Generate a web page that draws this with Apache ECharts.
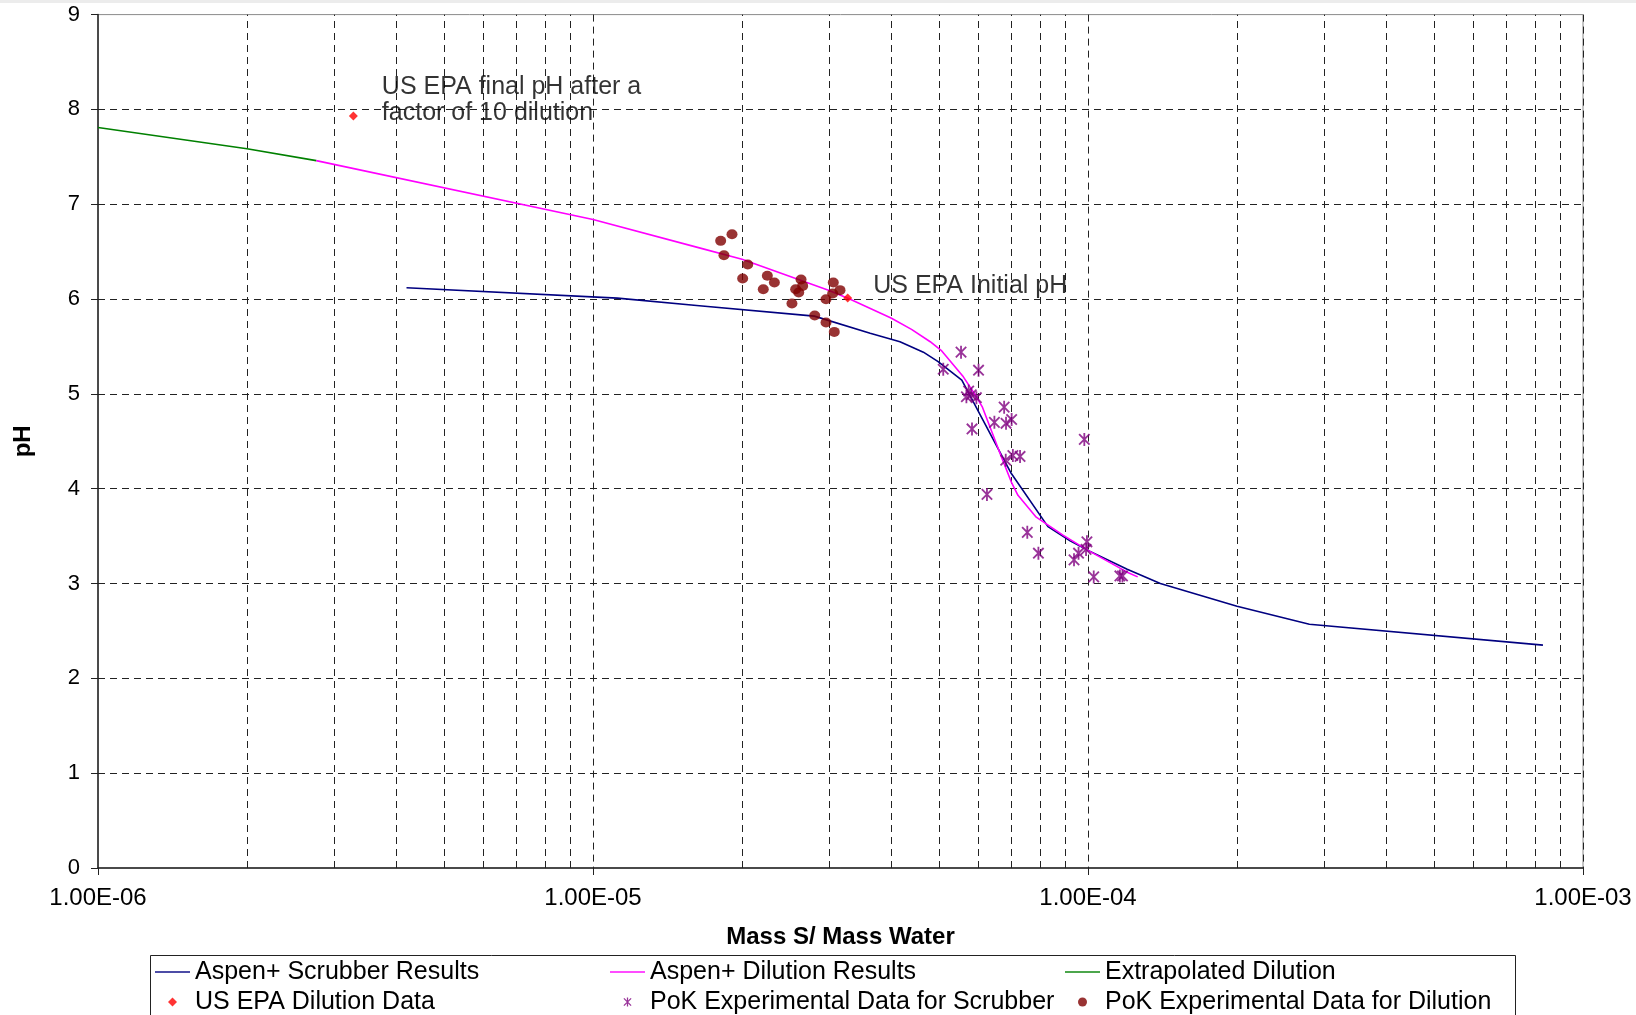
<!DOCTYPE html>
<html><head><meta charset="utf-8">
<script src="https://cdn.jsdelivr.net/npm/echarts@6/dist/echarts.min.js"></script>
<style>html,body{margin:0;padding:0;background:#fff}#c{width:1636px;height:1015px}</style>
</head><body><div id="c"></div>
<script>
// ---- data ----
const scrubberX = [4.2e-6, 1.12e-5, 1.64e-5, 2.8e-5, 3.63e-5, 4.17e-5, 4.65e-5, 4.98e-5, 5.56e-5, 7.0e-5, 8.3e-5, 9.2e-5, 1.0e-4, 1.2e-4, 1.4e-4, 2.0e-4, 2.8e-4, 8.3e-4];
const scrubberY = [6.12, 6.01, 5.93, 5.82, 5.64, 5.55, 5.44, 5.34, 5.145, 4.16, 3.60, 3.45, 3.35, 3.15, 3.00, 2.76, 2.57, 2.35];

const dilutionX = [2.76e-6, 1.0e-5, 1.64e-5, 2.0e-5, 3.0e-5, 3.3e-5, 4.0e-5, 4.4e-5, 4.8e-5, 5.05e-5, 5.6e-5, 5.9e-5, 6.12e-5, 6.6e-5, 7.0e-5, 7.22e-5, 7.86e-5, 8.9e-5, 1.0e-4, 1.2e-4, 1.26e-4];
const dilutionY = [7.46, 6.84, 6.54, 6.42, 6.09, 6.00, 5.80, 5.68, 5.55, 5.46, 5.18, 5.00, 4.86, 4.41, 4.07, 3.93, 3.70, 3.51, 3.35, 3.12, 3.07];

const extrapX = [1.0e-6, 2.0e-6, 2.76e-6];
const extrapY = [7.81, 7.585, 7.46];

const epaX = [3.28e-6, 3.27e-5];
const epaY = [7.93, 6.01];
const epaNotes = ['US EPA final pH after a\nfactor of 10 dilution', 'US EPA Initial pH'];

const pokScrubX = [5.54e-5, 5.10e-5, 6.01e-5, 5.68e-5, 5.74e-5, 5.81e-5, 5.95e-5, 5.83e-5, 6.77e-5, 6.47e-5, 6.83e-5, 7.01e-5, 9.83e-5, 6.82e-5, 7.05e-5, 7.29e-5, 6.25e-5, 7.54e-5, 7.94e-5, 9.37e-5, 9.57e-5, 9.91e-5, 9.95e-5, 1.027e-4, 1.16e-4, 1.174e-4];
const pokScrubY = [5.44, 5.26, 5.25, 4.97, 5.03, 4.99, 4.96, 4.63, 4.86, 4.70, 4.69, 4.73, 4.52, 4.30, 4.35, 4.34, 3.94, 3.54, 3.32, 3.25, 3.32, 3.36, 3.44, 3.07, 3.08, 3.08];

const pokDilX = [1.811e-5, 1.909e-5, 1.839e-5, 2.054e-5, 2.006e-5, 2.25e-5, 2.325e-5, 2.208e-5, 2.632e-5, 2.652e-5, 2.567e-5, 2.604e-5, 2.523e-5, 3.058e-5, 3.155e-5, 3.049e-5, 2.956e-5, 2.805e-5, 2.956e-5, 3.072e-5];
const pokDilY = [6.614, 6.684, 6.463, 6.365, 6.217, 6.245, 6.175, 6.104, 6.207, 6.139, 6.104, 6.070, 5.954, 6.175, 6.094, 6.059, 5.999, 5.827, 5.753, 5.654];

const xDecades = [1e-6, 1e-5, 1e-4];
const minorMultipliers = [2, 3, 4, 5, 6, 7, 8, 9];
const yTicks = [0, 1, 2, 3, 4, 5, 6, 7, 8, 9];
const yMin = 0, yMax = 9;

const names = {
  scrub: 'Aspen+ Scrubber Results',
  dil: 'Aspen+ Dilution Results',
  ext: 'Extrapolated Dilution',
  epa: 'US EPA Dilution Data',
  pokS: 'PoK Experimental Data for Scrubber',
  pokD: 'PoK Experimental Data for Dilution'
};

const colors = { scrub: '#000080', dil: '#ff00ff', ext: '#008000', epa: '#ff0000', pokS: '#800080', pokD: '#800000' };

// ---- build ----
const FONT = '"Liberation Sans", Arial, sans-serif';
const zip = (xs, ys) => xs.map((x, i) => [x, ys[i]]);
const minorGrid = [];
xDecades.forEach(d => minorMultipliers.forEach(m => minorGrid.push([{ coord: [d * m, yMin] }, { coord: [d * m, yMax] }])));

function sciLabel(v) {
  const s = Number(v).toExponential(2).toUpperCase();
  const parts = s.split('E');
  const e = parseInt(parts[1], 10);
  return parts[0] + 'E' + (e < 0 ? '-' : '+') + String(Math.abs(e)).padStart(2, '0');
}

const asterisk = 'path://M8.6,0L11.4,0L11.4,20L8.6,20Z M1,3L3,1L19,17L17,19Z M17,1L19,3L3,19L1,17Z';
const lineIcon = 'path://M0,0L35,0L35,2L0,2Z';
const diamondIcon = 'path://M5,0L10,5L5,10L0,5Z';

const epaData = epaX.map((x, i) => ({
  value: [x, epaY[i]],
  label: {
    show: true, position: 'right', distance: i === 0 ? 24 : 21,
    offset: [0, i === 0 ? -15.5 : -12],
    formatter: epaNotes[i], color: '#000', fontSize: 25, lineHeight: 26,
    fontFamily: FONT, align: 'left'
  }
}));

const legendBase = {
  orient: 'vertical', padding: 0, itemWidth: 35, itemHeight: 9, itemGap: 5,
  selectedMode: false, top: 959.5, symbolKeepAspect: true,
  textStyle: { fontSize: 25, lineHeight: 25, color: '#000', fontFamily: FONT }
};
const lineItem = (key) => ({ name: names[key], icon: lineIcon, itemStyle: { color: colors[key], opacity: 0.7 } });

const option = {
  animation: false,
  backgroundColor: '#ffffff',
  textStyle: { fontFamily: FONT },
  grid: { left: 98, right: 53, top: 14.6, bottom: 147, show: true, borderColor: '#8a8a8a', borderWidth: 1 },
  xAxis: {
    type: 'log', logBase: 10, min: 1e-6, max: 1e-3,
    name: 'Mass S/ Mass Water', nameLocation: 'middle', nameGap: 57,
    nameTextStyle: { fontSize: 24, fontWeight: 'bold', color: '#000', fontFamily: FONT },
    axisLine: { show: true, lineStyle: { color: '#222', width: 1.5 } },
    axisTick: { show: true, length: 7, inside: false, lineStyle: { color: '#222' } },
    axisLabel: { fontSize: 24, color: '#000', margin: 18, formatter: sciLabel, fontFamily: FONT },
    splitLine: { show: true, showMinLine: false, showMaxLine: false, lineStyle: { color: '#222', type: [7, 5], width: 1 } },
    minorTick: { show: false }, minorSplitLine: { show: false }
  },
  yAxis: {
    type: 'value', min: yMin, max: yMax, interval: 1,
    name: 'pH', nameLocation: 'middle', nameGap: 63,
    nameTextStyle: { fontSize: 24, fontWeight: 'bold', color: '#000', fontFamily: FONT },
    axisLine: { show: true, lineStyle: { color: '#222', width: 1.5 } },
    axisTick: { show: true, length: 7, inside: false, lineStyle: { color: '#222' } },
    axisLabel: { fontSize: 22, color: '#000', margin: 18, fontFamily: FONT,
      formatter: v => (yTicks.indexOf(v) >= 0 ? String(v) : '') },
    splitLine: { show: true, showMinLine: false, showMaxLine: false, lineStyle: { color: '#222', type: [7, 5], width: 1 } }
  },
  legend: [
    Object.assign({}, legendBase, { left: 155, data: [lineItem('scrub'), { name: names.epa, icon: diamondIcon }] }),
    Object.assign({}, legendBase, { left: 610, data: [lineItem('dil'), { name: names.pokS }] }),
    Object.assign({}, legendBase, { left: 1065, data: [lineItem('ext'), { name: names.pokD }] })
  ],
  graphic: [
    { type: 'rect', left: 0, top: 0, shape: { width: 1636, height: 3 }, style: { fill: '#ececec' }, silent: true },
    { type: 'rect', left: 148, top: 953, shape: { width: 1365, height: 90 }, style: { fill: 'none', stroke: '#222', lineWidth: 1 }, silent: true, z: 100 }
  ],
  series: [
    { name: names.scrub, type: 'line', data: zip(scrubberX, scrubberY), symbol: 'none', silent: true, z: 3,
      color: colors.scrub, lineStyle: { color: colors.scrub, width: 1.6 },
      markLine: { silent: true, z: 2, symbol: ['none', 'none'], label: { show: false },
        lineStyle: { color: '#222', type: [7, 5], width: 1, opacity: 1 },
        emphasis: { disabled: true }, animation: false, data: minorGrid } },
    { name: names.dil, type: 'line', data: zip(dilutionX, dilutionY), symbol: 'none', silent: true, z: 3,
      color: colors.dil, lineStyle: { color: colors.dil, width: 1.6 } },
    { name: names.ext, type: 'line', data: zip(extrapX, extrapY), symbol: 'none', silent: true, z: 3,
      color: colors.ext, lineStyle: { color: colors.ext, width: 1.6 } },
    { name: names.epa, type: 'scatter', data: epaData, symbol: 'diamond', symbolSize: 9, silent: true, z: 5,
      itemStyle: { color: colors.epa } },
    { name: names.pokS, type: 'scatter', data: zip(pokScrubX, pokScrubY), symbol: asterisk, symbolSize: 13, symbolKeepAspect: true, silent: true, z: 4,
      itemStyle: { color: colors.pokS } },
    { name: names.pokD, type: 'scatter', data: zip(pokDilX, pokDilY), symbol: 'circle', symbolSize: [11, 10], silent: true, z: 4,
      itemStyle: { color: colors.pokD } }
  ]
};

const chart = echarts.init(document.getElementById('c'), null, { renderer: 'canvas' });
chart.setOption(option);
</script></body></html>
